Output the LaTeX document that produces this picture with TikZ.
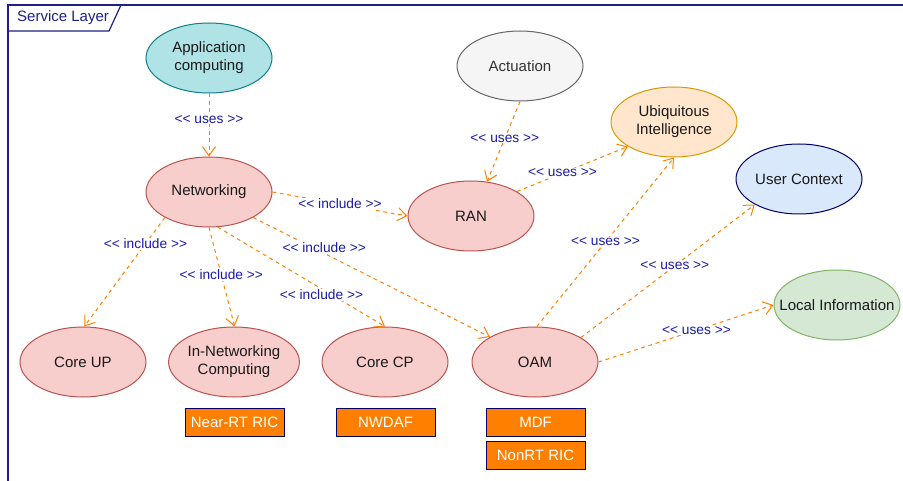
\documentclass[tikz,border=0pt]{standalone}
\usepackage{fontspec}
\setmainfont{Liberation Sans}[Ligatures=TeXOff]
\usetikzlibrary{shapes.geometric, arrows.meta}

\definecolor{framecol}{HTML}{1F1F85}
\definecolor{relcol}{HTML}{1A1AA6}
\definecolor{depcol}{HTML}{FF8000}
\definecolor{pinkfill}{HTML}{F8CECC}
\definecolor{pinkline}{HTML}{B85450}
\definecolor{tealfill}{HTML}{B0E3E6}
\definecolor{tealline}{HTML}{0E8088}
\definecolor{grayfill}{HTML}{F5F5F5}
\definecolor{grayline}{HTML}{666666}
\definecolor{orangefill}{HTML}{FFE6CC}
\definecolor{orangeline}{HTML}{D79B00}
\definecolor{bluefill}{HTML}{DAE8FC}
\definecolor{blueline}{HTML}{000066}
\definecolor{greenfill}{HTML}{D5E8D4}
\definecolor{greenline}{HTML}{82B366}

\tikzset{
    usecase/.style={ % Sets the properties for each use case
        ellipse,
        draw=pinkline, fill=pinkfill,
        line width=1pt,
        minimum width=126pt, minimum height=70pt, inner sep=0pt,
        align=center,
        text=black!90,
        font=\fontsize{15}{18}\selectfont
    },
    function/.style={ % orange boxes under the use cases
        rectangle,
        draw=blueline, fill=depcol,
        line width=1pt,
        minimum width=99pt, minimum height=28pt, inner sep=0pt,
        text=white,
        font=\fontsize{15}{18}\selectfont
    },
    frame/.style={draw=framecol, line width=1.2pt},
    every edge/.style={ % Sets the properties for each dependency
        draw=depcol,
        line width=1pt,
        dash pattern=on 3.75pt off 3.75pt,
        -{Straight Barb[length=9pt,width=13pt,line width=1pt]}
    },
    rel/.style={ % stereotype labels
        fill=white, inner sep=1pt,
        text=relcol,
        font=\fontsize{13.75}{16}\selectfont
    }
}

\begin{document}
\begin{tikzpicture}[x=1pt, y=-1pt]
        \useasboundingbox (0,0) rectangle (903,481);
        % rahmen
        \draw[frame] (903,5) -- (8,5) -- (8,481);
        \draw[frame] (121,5) -- (109,31) -- (8,31);
        \node[anchor=west, inner sep=0pt, text=framecol,
              font=\fontsize{15}{18}\selectfont] (layer) at (17,18) {Service Layer};
        % oben
        \node[usecase, fill=tealfill, draw=tealline]     (app)    at (209,58)  {Application\\computing};
        \node[usecase, fill=grayfill, draw=grayline,
              text=black!80]                             (act)    at (520,66)  {Actuation};
        \node[usecase, fill=orangefill, draw=orangeline] (ubi)    at (674,122) {Ubiquitous\\Intelligence};
        \node[usecase, fill=bluefill, draw=blueline]     (user)   at (799,179) {User Context};
        \node[usecase, fill=greenfill, draw=greenline,
              inner xsep=-13pt]                          (local)  at (837,305) {Local Information};
        % mitte
        \node[usecase]                                   (net)    at (209,192) {Networking};
        \node[usecase]                                   (ran)    at (471,216) {RAN};
        % unten
        \node[usecase]                                   (coreup) at (83,362)  {Core UP};
        \node[usecase]                                   (innet)  at (234,362) {In-Networking\\Computing};
        \node[usecase]                                   (corecp) at (385,362) {Core CP};
        \node[usecase]                                   (oam)    at (535,362) {OAM};
        % funktionen
        \node[function]                                  (nrtric) at (234.5,422) {Near-RT RIC};
        \node[function]                                  (nwdaf)  at (385.5,422) {NWDAF};
        \node[function]                                  (mdf)    at (535.5,422) {MDF};
        \node[function]                                  (nonrt)  at (535.5,455) {NonRT RIC};

        \draw
                % uses
                (app.270)   edge node[rel, pos=.41]{<< uses >>}    (net.90)
                (act.270)   edge node[rel, pos=.46]{<< uses >>}    (ran.65)
                (ran.28)    edge node[rel, pos=.41]{<< uses >>}    (ubi.208)
                (oam.87)    edge node[rel, pos=.5]{<< uses >>}     (ubi.270)
                (oam.28)    edge node[rel, pos=.54]{<< uses >>}    (user.210)
                (oam.0)     edge node[rel, pos=.56]{<< uses >>}    (local.180)
                % include
                (net.0)     edge node[rel, pos=.5]{<< include >>}  (ran.180)
                (net.210)   edge node[rel, pos=.24]{<< include >>} (coreup.88)
                (net.270)   edge node[rel, pos=.48]{<< include >>} (innet.89)
                (net.284)   edge node[rel, pos=.62,
                                          yshift=-6pt]{<< include >>} (corecp.90)
                (net.330)   edge node[rel, pos=.3,
                                          yshift=6pt]{<< include >>} (oam.151)
        ;
\end{tikzpicture}
\end{document}
